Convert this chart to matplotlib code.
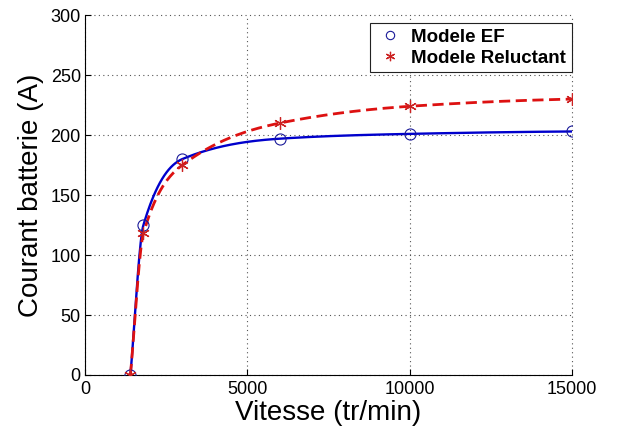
import numpy as np
import matplotlib
matplotlib.use("Agg")
import matplotlib.pyplot as plt

plt.rcParams['font.family'] = ['Liberation Sans', 'DejaVu Sans']

# Vitesse (tr/min) et courant batterie (A)
vitesse = [1400, 1800, 3000, 6000, 10000, 15000]
courant_ef = [0, 125, 180, 197, 201, 203]
courant_reluctant = [0, 118, 175, 210, 224, 230]


def pchip(x, y, xn):
    """Interpolation cubique monotone (Fritsch-Carlson) pour tracer la courbe lissée."""
    x = np.asarray(x, float)
    y = np.asarray(y, float)
    h = np.diff(x)
    d = np.diff(y) / h
    m = np.zeros_like(y)
    for k in range(1, len(x) - 1):
        if d[k - 1] * d[k] > 0:
            w1 = 2 * h[k] + h[k - 1]
            w2 = h[k] + 2 * h[k - 1]
            m[k] = (w1 + w2) / (w1 / d[k - 1] + w2 / d[k])
    m[0] = d[0]
    m[-1] = d[-1] * 0.5
    idx = np.clip(np.searchsorted(x, xn) - 1, 0, len(h) - 1)
    t = (xn - x[idx]) / h[idx]
    h00 = 2 * t**3 - 3 * t**2 + 1
    h10 = t**3 - 2 * t**2 + t
    h01 = -2 * t**3 + 3 * t**2
    h11 = t**3 - t**2
    return h00 * y[idx] + h10 * h[idx] * m[idx] + h01 * y[idx + 1] + h11 * h[idx] * m[idx + 1]


fig = plt.figure(figsize=(6.18, 4.32), dpi=100)
ax = fig.add_axes([0.1375, 0.132, 0.788, 0.833])

xs = np.linspace(vitesse[0], vitesse[-1], 600)
ax.plot(xs, pchip(vitesse, courant_ef, xs), color='#0000cc', lw=1.7, zorder=3)
ax.plot(xs, pchip(vitesse, courant_reluctant, xs), color='#dd1111', lw=2.0,
        ls=(0, (4, 2)), zorder=3)

# astérisque façon MATLAB : étoile à 6 branches en traits
asterisque = (6, 2, 0)
ax.plot(vitesse, courant_ef, 'o', mfc='none', mec='#1a1a99', ms=8, mew=0.8,
        label='Modele EF', zorder=4)
ax.plot(vitesse, courant_reluctant, ls='none', marker=asterisque, color='#cc2222',
        ms=9, mew=0.9, label='Modele Reluctant', zorder=4)

ax.set_xlim(0, 15000)
ax.set_ylim(0, 300)
ax.set_xticks([0, 5000, 10000, 15000])
ax.set_yticks(range(0, 301, 50))
ax.tick_params(direction='in', length=4, labelsize=13)
ax.tick_params(axis='x', pad=4)
ax.tick_params(axis='y', pad=3)
ax.grid(True, ls=(0, (1, 3)), color='#555555', lw=0.8)
for g in ax.get_xgridlines() + ax.get_ygridlines():
    g.set_clip_on(False)
ax.spines['top'].set_visible(False)
ax.spines['right'].set_visible(False)

ax.set_xlabel('Vitesse (tr/min)', fontsize=20, labelpad=2)
ax.set_ylabel('Courant batterie (A)', fontsize=20, labelpad=5)

leg = ax.legend(loc='upper right', bbox_to_anchor=(1.0, 0.978),
                prop={'weight': 'bold', 'size': 13.5}, markerscale=0.75,
                fancybox=False, edgecolor='#222222', framealpha=1,
                handlelength=1.5, handletextpad=0.4, borderpad=0.3,
                labelspacing=0.2, borderaxespad=0.0)
leg.get_frame().set_linewidth(0.8)

fig.savefig('out.png', dpi=100)
